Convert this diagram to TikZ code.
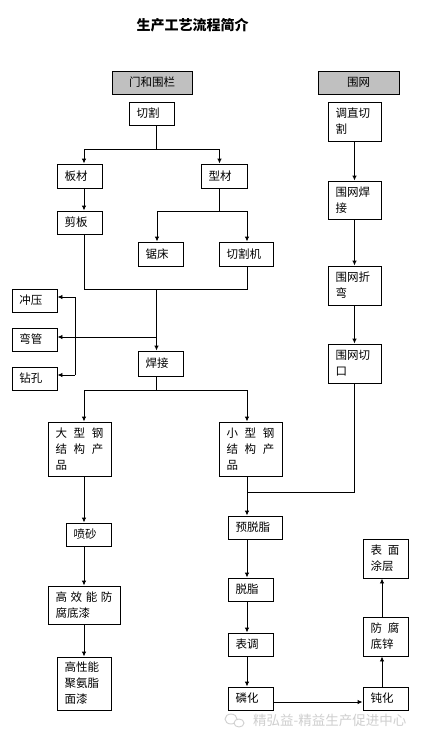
\documentclass[tikz,border=0pt]{standalone}
\usepackage{fontspec}
\setmainfont{Noto Sans CJK SC}
\usetikzlibrary{arrows.meta,calc}
\definecolor{headgray}{HTML}{C0C0C0}
\definecolor{wmgray}{HTML}{CFCFCF}
\newcommand\spr[2]{\makebox[#1]{#2}}
\tikzset{
  box/.style={draw=black, line width=0.9pt, fill=white,
    font=\fontsize{11.5}{16}\selectfont, inner xsep=7.5pt, inner ysep=0pt,
    align=left, anchor=center},
  head/.style={draw=black, line width=0.9pt, fill=headgray,
    font=\fontsize{11.5}{16}\selectfont, inner sep=0pt, align=center, anchor=center},
  conn/.style={line width=0.9pt},
  arr/.style={line width=0.9pt, -{Latex[length=5pt,width=4.5pt]}},
}
\begin{document}
\begin{tikzpicture}[x=1pt,y=-1pt]
\useasboundingbox[fill=white] (0,0) rectangle (424,742);

% title
\node[font=\fontsize{14}{16}\selectfont\bfseries] (title) at (192.5,25) {生产工艺流程简介};

% headers
\node[head, minimum width=80pt, minimum height=23pt] (mh) at (152,82.5) {门和围栏};
\node[head, minimum width=81pt, minimum height=23pt] (ww) at (358.5,82.5) {围网};

% left part
\node[box, text width=30pt, minimum height=23pt] (qg) at (151.5,113.5) {切割};
\node[box, text width=30pt, minimum height=24pt] (bc) at (79.5,176) {板材};
\node[box, text width=31pt, minimum height=24pt] (xc) at (224,176) {型材};
\node[box, text width=30pt, minimum height=23pt] (jb) at (79.5,222.5) {剪板};
\node[box, text width=30pt, minimum height=24pt] (jc) at (160.5,254) {锯床};
\node[box, text width=39pt, minimum height=24pt] (qgj) at (246,254) {切割机};
\node[box, text width=30pt, minimum height=23pt] (cy) at (34.5,300.5) {冲压};
\node[box, text width=30pt, minimum height=23pt] (wg) at (34.5,339.5) {弯管};
\node[box, text width=30pt, minimum height=23pt] (zk) at (34.5,378.5) {钻孔};
\node[box, text width=30pt, minimum height=25pt] (hj) at (160.5,363.5) {焊接};
\node[box, text width=48pt, minimum height=54pt] (dx) at (79.5,449)
  {\spr{48pt}{大\hfill 型\hfill 钢}\\\spr{48pt}{结\hfill 构\hfill 产}\\品};
\node[box, text width=48pt, minimum height=54pt] (xx) at (250.5,449)
  {\spr{48pt}{小\hfill 型\hfill 钢}\\\spr{48pt}{结\hfill 构\hfill 产}\\品};
\node[box, text width=30pt, minimum height=23pt] (ps) at (88.5,534.5) {喷砂};
\node[box, text width=57pt, minimum height=38pt] (gx) at (84,605)
  {\spr{57pt}{高\hfill 效\hfill 能\hfill 防}\\腐底漆};
\node[box, text width=39pt, minimum height=53pt] (gxn) at (84,683.5) {高性能\\聚氨脂\\面漆};

% right column (small products)
\node[box, text width=39pt, minimum height=23pt] (ytz) at (255,527.5) {预脱脂};
\node[box, text width=30pt, minimum height=23pt] (tzh) at (250.5,589.5) {脱脂};
\node[box, text width=30pt, minimum height=23pt] (bt) at (250.5,644.5) {表调};
\node[box, text width=30pt, minimum height=23pt] (lh) at (250.5,698.5) {磷化};
\node[box, text width=30pt, minimum height=23pt] (dh) at (385.5,698.5) {钝化};
\node[box, text width=30pt, minimum height=39pt] (fd) at (385.5,636.5)
  {\spr{29pt}{防\hfill 腐}\\底锌};
\node[box, text width=30pt, minimum height=39pt] (bm) at (385.5,558.5)
  {\spr{29pt}{表\hfill 面}\\涂层};

% fence net column
\node[box, text width=38pt, minimum height=39pt] (tz) at (354.5,121.5) {调直切\\割};
\node[box, text width=38pt, minimum height=38pt] (whj) at (354.5,200) {围网焊\\接};
\node[box, text width=38pt, minimum height=39pt] (wzw) at (354.5,285.5) {围网折\\弯};
\node[box, text width=38pt, minimum height=39pt] (wqk) at (354.5,363.5) {围网切\\口};

% junction coordinates
\coordinate (j1) at (156.5,149); \coordinate (j1L) at (84,149); \coordinate (j1R) at (219.5,149);
\coordinate (j2) at (219.5,211); \coordinate (j2L) at (157,211); \coordinate (j2R) at (247,211);
\coordinate (j3) at (156.5,289); \coordinate (j3L) at (84,289); \coordinate (j3R) at (247,289);
\coordinate (j4) at (156.5,337);
\coordinate (bT) at (75,297); \coordinate (bB) at (75,375);
\coordinate (j5) at (156.5,390); \coordinate (j5L) at (84,390); \coordinate (j5R) at (247,390);
\coordinate (j6) at (354.5,492); \coordinate (j6L) at (247,492);
\coordinate (j7) at (300,702);
\coordinate (xF) at (382,650);

% connectors: cutting
\draw[conn] (qg.south -| j1) -- (j1);
\draw[conn] (j1L) -- (j1R);
\draw[arr] (j1L) -- (bc.north -| j1L);
\draw[arr] (j1R) -- (xc.north -| j1R);
\draw[arr] (bc.south -| j1L) -- (jb.north -| j1L);
\draw[conn] (xc.south -| j2) -- (j2);
\draw[conn] (j2L) -- (j2R);
\draw[arr] (j2L) -- (jc.north -| j2L);
\draw[arr] (j2R) -- (qgj.north -| j2R);
\draw[conn] (jb.south -| j3L) -- (j3L) -- (j3R) -- (qgj.south -| j3R);
\draw[arr] (j3) -- (hj.north -| j3);
\draw[arr] (j4) -- (wg.east |- j4);
\draw[conn] (bT) -- (bB);
\draw[arr] (bT) -- (cy.east |- bT);
\draw[arr] (bB) -- (zk.east |- bB);
% welding split
\draw[conn] (hj.south -| j5) -- (j5);
\draw[conn] (j5L) -- (j5R);
\draw[arr] (j5L) -- (dx.north -| j5L);
\draw[arr] (j5R) -- (xx.north -| j5R);
% large products
\draw[arr] (dx.south -| j5L) -- (ps.north -| j5L);
\draw[arr] (ps.south -| j5L) -- (gx.north -| j5L);
\draw[arr] (gx.south -| j5L) -- (gxn.north -| j5L);
% small products
\draw[arr] (xx.south -| j5R) -- (ytz.north -| j5R);
\draw[conn] (wqk.south) -- (j6) -- (j6L);
\draw[arr] (ytz.south -| j5R) -- (tzh.north -| j5R);
\draw[arr] (tzh.south -| j5R) -- (bt.north -| j5R);
\draw[arr] (bt.south -| j5R) -- (lh.north -| j5R);
\draw[arr] (lh.east |- j7) -- (dh.west |- j7);
\draw[arr] (dh.north -| xF) -- (fd.south -| xF);
\draw[arr] (fd.north -| xF) -- (bm.south -| xF);
% fence net
\draw[arr] (tz.south) -- (whj.north);
\draw[arr] (whj.south) -- (wzw.north);
\draw[arr] (wzw.south) -- (wqk.north);

% watermark
\draw[wmgray, line width=0.9pt] (231,719) ellipse (6pt and 5pt);
\draw[wmgray, line width=0.9pt, fill=white] (239,723) ellipse (5pt and 4pt);
\node[font=\fontsize{13.5}{16}\selectfont, text=wmgray, anchor=west, inner sep=0pt] (wm) at (253,720) {精弘益-精益生产促进中心};
\end{tikzpicture}
\end{document}
